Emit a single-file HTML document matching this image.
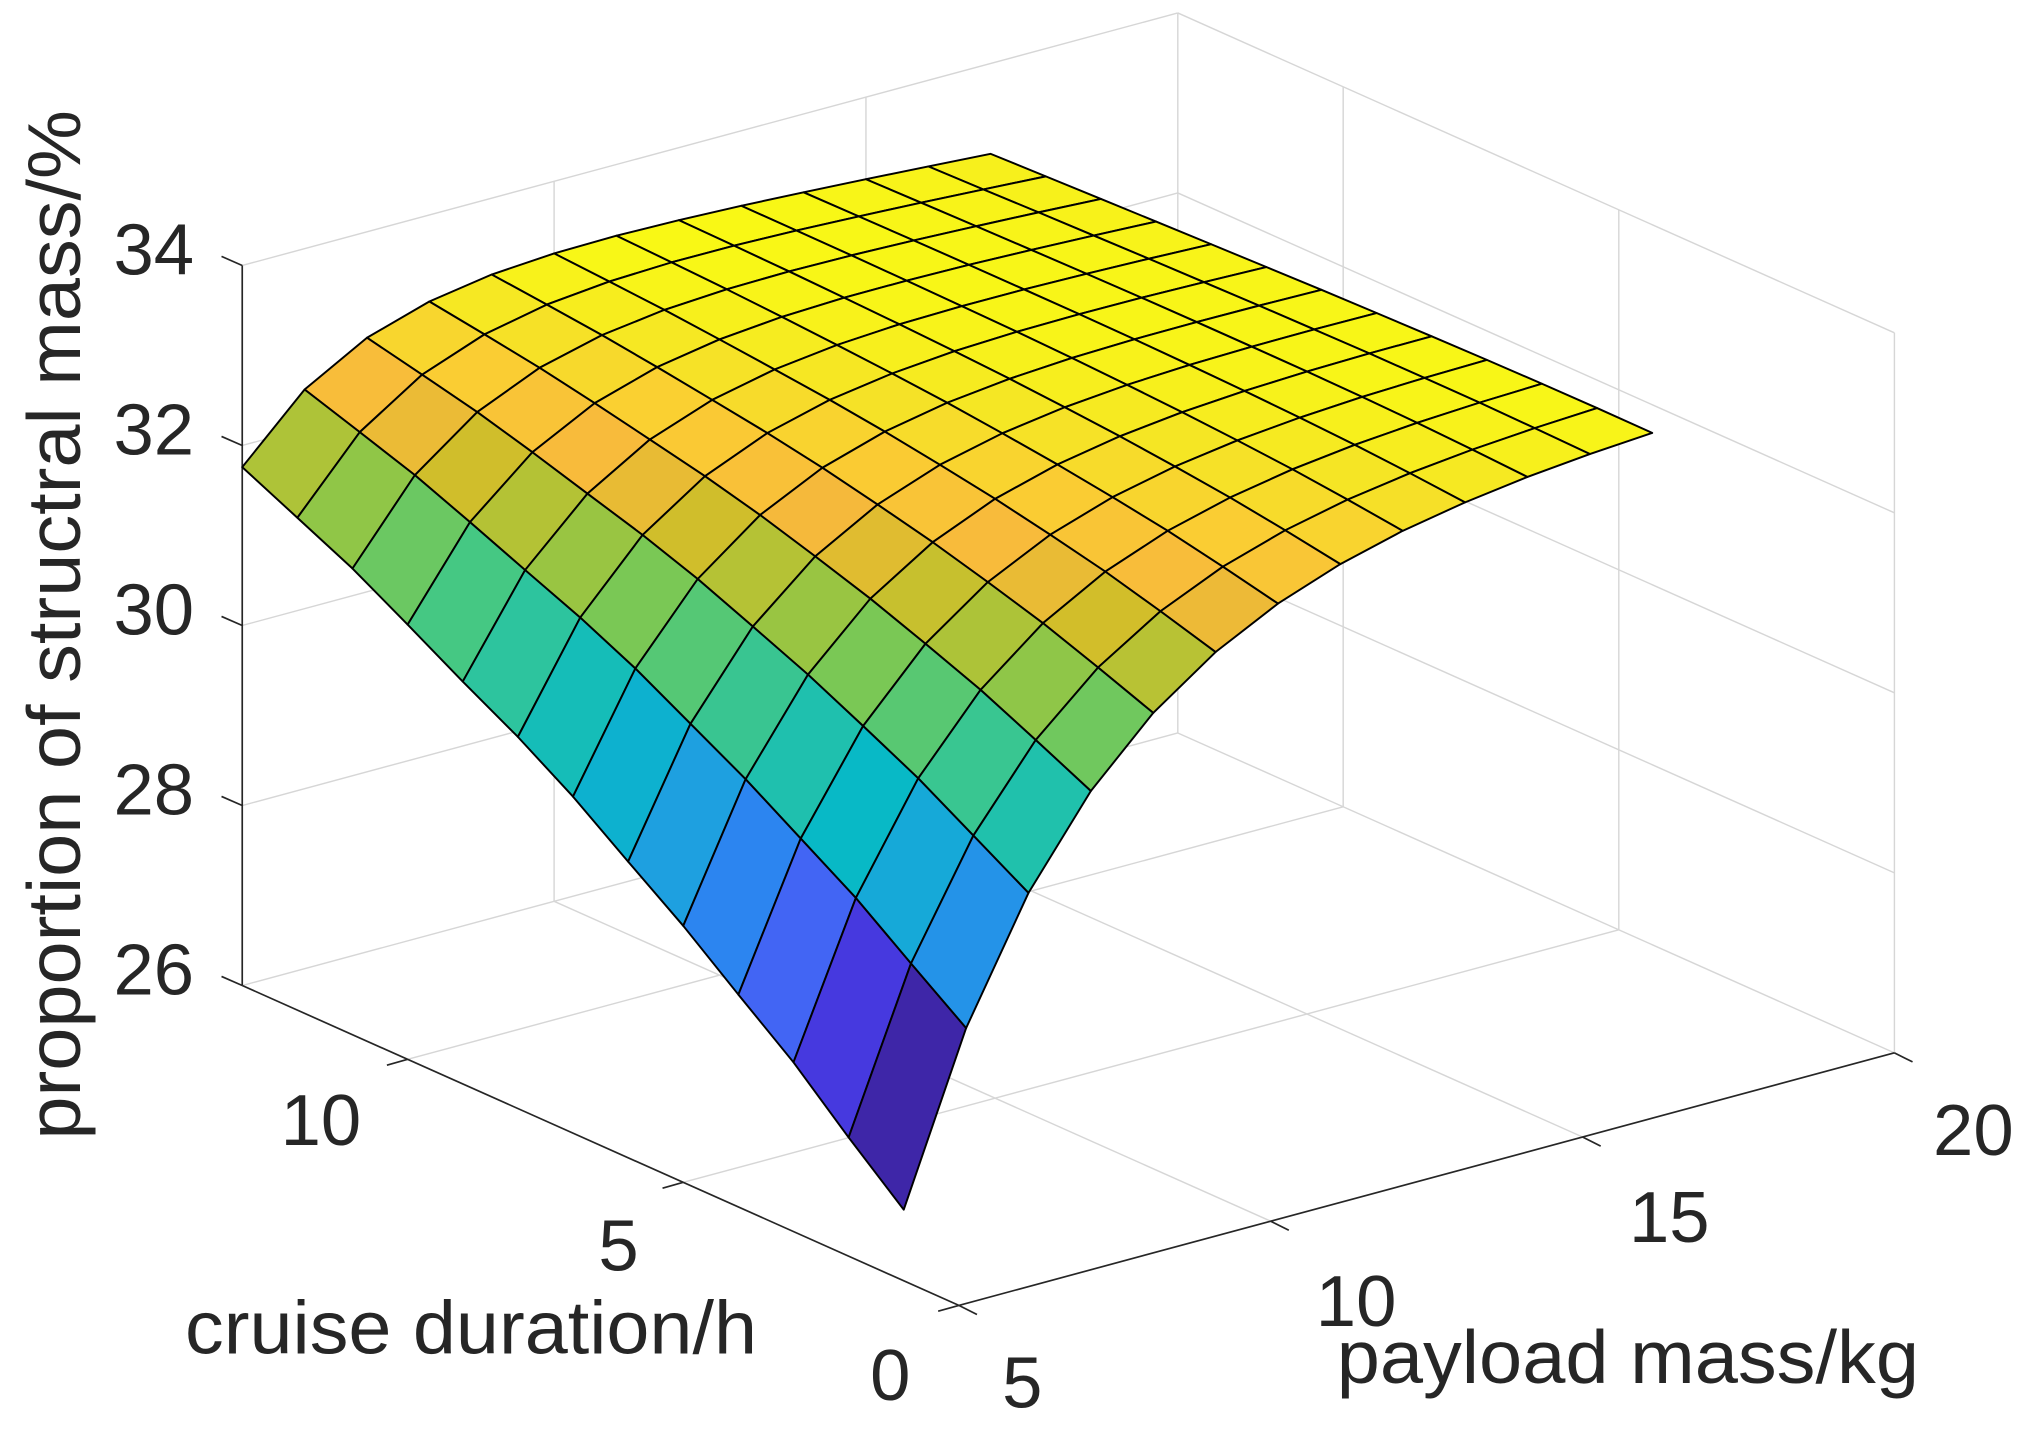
<!DOCTYPE html>
<html><head><meta charset="utf-8">
<style>
html,body{margin:0;padding:0;background:#fff;}
svg{display:block;}
text{font-family:"Liberation Sans",Arial,sans-serif;fill:#262626;}
</style></head>
<body>
<svg id="s" width="2029" height="1431" viewBox="0 0 1568 1105" preserveAspectRatio="none" xmlns="http://www.w3.org/2000/svg">
<g id="grid" stroke="#d6d6d6" stroke-width="1.1" fill="none"></g>
<g id="axes" stroke="#262626" stroke-width="1.3" fill="none"></g>
<g id="surf" stroke="#000" stroke-width="1.5" stroke-linejoin="round"></g>
<g font-size="56">
<text x="150" y="212" text-anchor="end">34</text>
<text x="150" y="351" text-anchor="end">32</text>
<text x="150" y="490" text-anchor="end">30</text>
<text x="150" y="629" text-anchor="end">28</text>
<text x="150" y="768" text-anchor="end">26</text>
<text x="248" y="884" text-anchor="middle">10</text>
<text x="478" y="981" text-anchor="middle">5</text>
<text x="688" y="1081" text-anchor="middle">0</text>
<text x="790" y="1087" text-anchor="middle">5</text>
<text x="1048" y="1024" text-anchor="middle">10</text>
<text x="1290" y="959" text-anchor="middle">15</text>
<text x="1525" y="892" text-anchor="middle">20</text>
</g>
<g font-size="58">
<text x="143" y="1045" textLength="442" lengthAdjust="spacingAndGlyphs">cruise duration/h</text>
<text x="1033" y="1068" textLength="450" lengthAdjust="spacingAndGlyphs">payload mass/kg</text>
<text transform="translate(62,880) rotate(-90)" x="0" y="0" textLength="795" lengthAdjust="spacingAndGlyphs">proportion of structral mass/%</text>
</g>
</svg>
<script>
(function(){
var NS="http://www.w3.org/2000/svg";
function P(c,p,z){return [741-42.6*c+48.2*(p-5), 1008-19*c-13*(p-5)-69.5*(z-26)];}
function line(g,a,b){var l=document.createElementNS(NS,"line");l.setAttribute("x1",a[0].toFixed(1));l.setAttribute("y1",a[1].toFixed(1));l.setAttribute("x2",b[0].toFixed(1));l.setAttribute("y2",b[1].toFixed(1));g.appendChild(l);}
var G=document.getElementById("grid"),A=document.getElementById("axes"),S=document.getElementById("surf");
var CM=13;
[5,10].forEach(function(c){line(G,P(c,5,26),P(c,20,26));});
line(G,P(CM,5,26),P(CM,20,26));
[10,15].forEach(function(p){line(G,P(0,p,26),P(CM,p,26));});
line(G,P(0,20,26),P(CM,20,26));
[10,15,20].forEach(function(p){line(G,P(CM,p,26),P(CM,p,34));});
[28,30,32,34].forEach(function(z){line(G,P(CM,5,z),P(CM,20,z));});
[0,5,10].forEach(function(c){line(G,P(c,20,26),P(c,20,34));});
[28,30,32,34].forEach(function(z){line(G,P(0,20,z),P(CM,20,z));});
line(A,P(CM,5,26),P(CM,5,34));
line(A,P(0,5,26),P(CM,5,26));
line(A,P(0,5,26),P(0,20,26));
[26,28,30,32,34].forEach(function(z){var a=P(CM,5,z);line(A,a,[a[0]-16,a[1]-7]);});
[0,5,10].forEach(function(c){var a=P(c,5,26);line(A,a,[a[0]-16,a[1]+4.5]);});
[5,10,15,20].forEach(function(p){var a=P(0,p,26);line(A,a,[a[0]+14,a[1]+7]);});
var base=[0,26.79,27.32,27.88,28.36,28.85,29.29,29.74,30.13,30.47,30.83,31.18,31.47,31.76];
function Z(c,p){var t=(c-1)/12,Aa=33.3+0.3*t,k=0.33+0.17*t,m=0.05*t,B=Aa-base[c],q=p-5;return Aa-B*Math.exp(-k*q)-m*q;}
var zs={},mn=1e9,mx=-1e9;
for(var c=1;c<=13;c++)for(var p=5;p<=17;p++){var v=Z(c,p);zs[c+"_"+p]=v;if(v<mn)mn=v;if(v>mx)mx=v;}
var stops=[[0,62,38,168],[0.08,70,56,222],[0.15,72,92,245],[0.25,42,135,240],[0.33,28,163,222],[0.42,6,184,200],[0.5,36,194,168],[0.58,72,200,128],[0.66,128,200,80],[0.72,168,196,58],[0.78,210,190,42],[0.835,248,185,60],[0.9,250,206,50],[0.95,245,228,38],[1,249,250,20]];
function cmap(t){t=Math.max(0,Math.min(1,t));for(var i=1;i<stops.length;i++){if(t<=stops[i][0]){var a=stops[i-1],b=stops[i],f=(t-a[0])/(b[0]-a[0]);return "rgb("+[1,2,3].map(function(j){return Math.round(a[j]+(b[j]-a[j])*f);}).join(",")+")";}}return "rgb(249,250,20)";}
var cells=[];
for(var c=1;c<13;c++)for(var p=5;p<17;p++)cells.push([c,p]);
cells.sort(function(a,b){return (b[0]+b[1])-(a[0]+a[1]);});
cells.forEach(function(e){var c=e[0],p=e[1];
 var pts=[P(c,p,zs[c+"_"+p]),P(c+1,p,zs[(c+1)+"_"+p]),P(c+1,p+1,zs[(c+1)+"_"+(p+1)]),P(c,p+1,zs[c+"_"+(p+1)])];
 var pg=document.createElementNS(NS,"polygon");
 pg.setAttribute("points",pts.map(function(q){return q[0].toFixed(1)+","+q[1].toFixed(1);}).join(" "));
 pg.setAttribute("fill",cmap((zs[c+"_"+p]-mn)/(mx-mn)));
 S.appendChild(pg);});
})();
</script>
</body></html>
